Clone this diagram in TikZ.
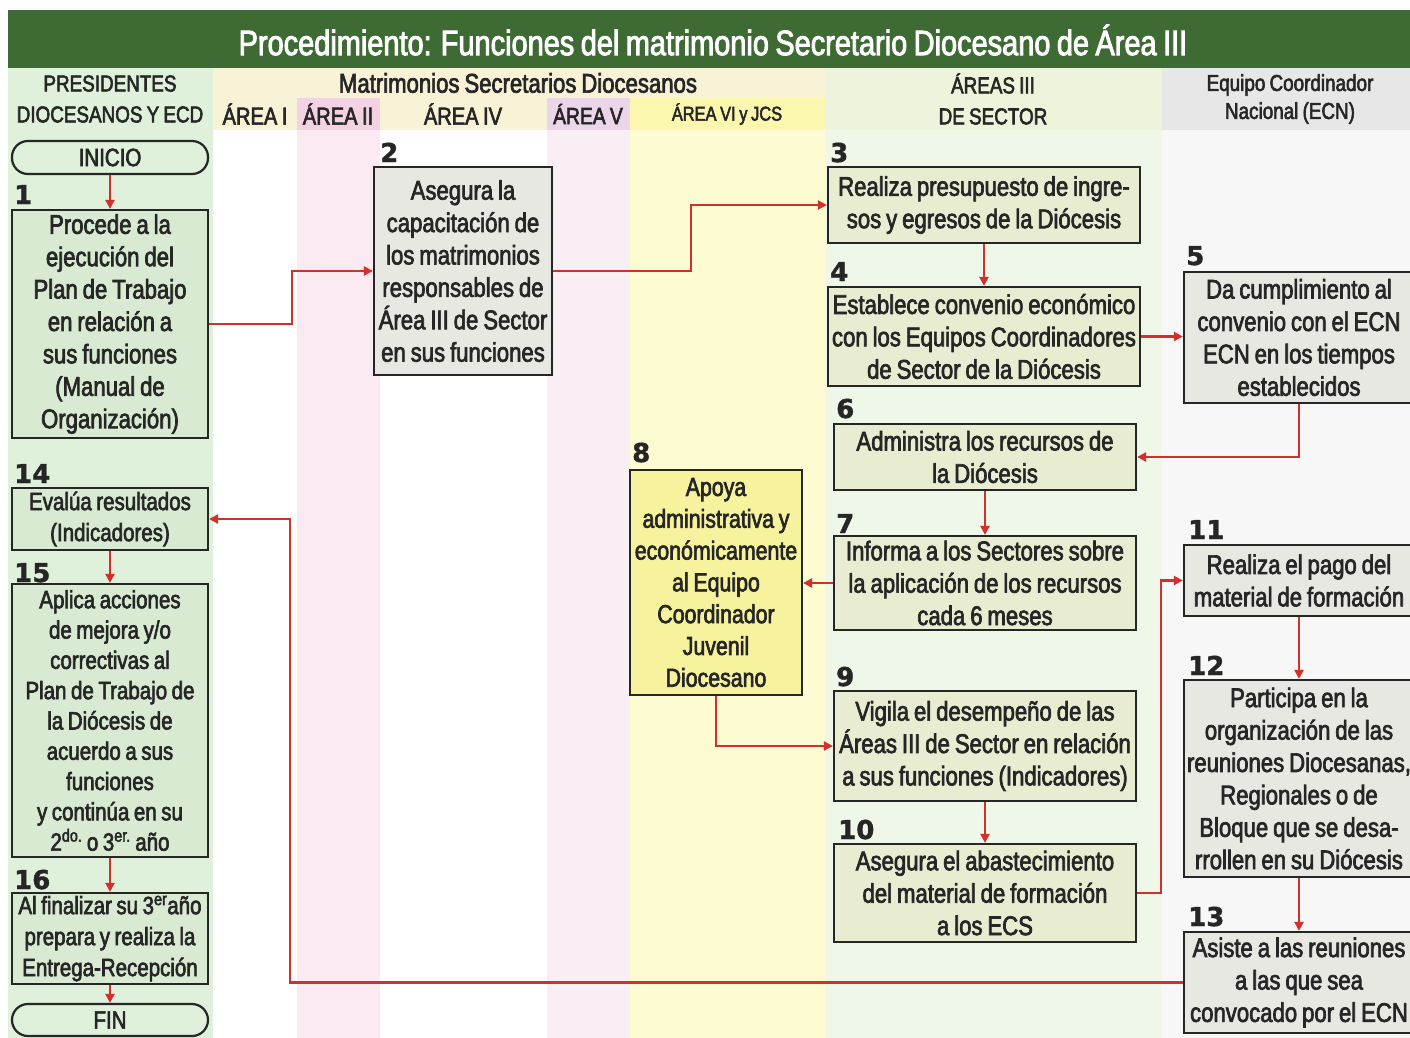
\documentclass[tikz,border=0pt]{standalone}
\usepackage{fontspec}
\setmainfont{Liberation Sans}[FakeStretch=0.82, FakeBold=2.5, WordSpace=0.8]
\newfontfamily\numfont{DejaVu Sans}[FakeBold=1.5]
\usetikzlibrary{arrows.meta}
\definecolor{titlegreen}{HTML}{3E6A34}
\definecolor{colgreen}{HTML}{DFF0DB}
\definecolor{hdrcream}{HTML}{F8F3D6}
\definecolor{hdrpink}{HTML}{F3D3E3}
\definecolor{hdrlav}{HTML}{EAD6E8}
\definecolor{hdryellow}{HTML}{FBF7AE}
\definecolor{hdrsector}{HTML}{EEF3DC}
\definecolor{hdrgray}{HTML}{E7E7E7}
\definecolor{bodypink}{HTML}{FBEAF2}
\definecolor{bodylav}{HTML}{F8EEF4}
\definecolor{bodyyellow}{HTML}{FDFBD2}
\definecolor{bodysector}{HTML}{EEF7E8}
\definecolor{bodygray}{HTML}{F7F7F7}
\definecolor{fillgreen}{HTML}{D8EAD2}
\definecolor{fillgray}{HTML}{E8E8E2}
\definecolor{fillsector}{HTML}{E8EDD2}
\definecolor{fillyellow}{HTML}{F6F29E}
\definecolor{boxline}{HTML}{262626}
\definecolor{txt}{HTML}{262626}
\definecolor{arrowred}{HTML}{D0312D}
\begin{document}
\begin{tikzpicture}[x=1pt,y=-1pt,
  box/.style={draw=boxline, line width=2.2pt, inner sep=0pt, align=center, text=txt,
    font=\fontsize{27}{32.4}\selectfont},
  term/.style={box, rounded corners=16pt, fill=colgreen, font=\fontsize{25}{25}\selectfont},
  num/.style={font=\numfont\bfseries\fontsize{26}{26}\selectfont, text=txt, anchor=base west, inner sep=0pt},
  hdr/.style={font=\fontsize{23}{31}\selectfont, text=txt, align=center, inner sep=0pt},
  arr/.style={draw=arrowred, line width=2.2pt, -{Triangle[length=9pt,width=9pt]}},
]
\useasboundingbox (0,0) rectangle (1410,1038);
\fill[white] (0,0) rectangle (1410,1038);
% column backgrounds
\fill[colgreen] (8,68) rectangle (213,1038);
\fill[hdrcream] (213,68) rectangle (825,130);
\fill[bodypink] (297,130) rectangle (380,1038);
\fill[hdrpink] (297,98) rectangle (380,130);
\fill[bodylav] (547,130) rectangle (630,1038);
\fill[hdrlav] (547,98) rectangle (630,130);
\fill[bodyyellow] (630,130) rectangle (825,1038);
\fill[hdryellow] (630,98) rectangle (825,130);
\fill[bodysector] (825,130) rectangle (1162,1038);
\fill[hdrsector] (825,68) rectangle (1162,130);
\fill[bodygray] (1162,130) rectangle (1410,1038);
\fill[hdrgray] (1162,68) rectangle (1410,130);
% title
\fill[titlegreen] (8,10) rectangle (1410,68);
\node[font=\fontsize{35.3}{35.3}\selectfont, text=white, inner sep=0pt] (title) at (713,40) {Procedimiento: Funciones del matrimonio Secretario Diocesano de Área III};
% headers
\node[hdr] (h1) at (110,99) {PRESIDENTES\\DIOCESANOS Y ECD};
\node[hdr, font=\fontsize{27}{27}\selectfont] (h2) at (518,83) {Matrimonios Secretarios Diocesanos};
\node[hdr, font=\fontsize{24.5}{24.5}\selectfont] (h3) at (255,114) {ÁREA I};
\node[hdr, font=\fontsize{24.5}{24.5}\selectfont] (h4) at (338,114) {ÁREA II};
\node[hdr, font=\fontsize{24.5}{24.5}\selectfont] (h5) at (463,114) {ÁREA IV};
\node[hdr, font=\fontsize{23.5}{23.5}\selectfont] (h6) at (588,114) {ÁREA V};
\node[hdr, font=\fontsize{20}{20}\selectfont] (h7) at (727,114) {ÁREA VI y JCS};
\node[hdr] (h8) at (993,99) {ÁREAS III\\DE SECTOR};
\node[hdr, font=\fontsize{23}{28}\selectfont] (h9) at (1290,99) {Equipo Coordinador\\Nacional (ECN)};
% boxes
\node[term, minimum width=196pt, minimum height=33pt] (inicio) at (110,157.5) {INICIO};
\node[box, fill=fillgreen, minimum width=196pt, minimum height=228pt] (b1) at (110,324) {Procede a la\\ejecución del\\Plan de Trabajo\\en relación a\\sus funciones\\(Manual de\\Organización)};
\node[box, fill=fillgray, minimum width=178pt, minimum height=208pt] (b2) at (463,271) {Asegura la\\capacitación de\\los matrimonios\\responsables de\\Área III de Sector\\en sus funciones};
\node[box, fill=fillsector, minimum width=312pt, minimum height=76pt] (b3) at (984,205) {Realiza presupuesto de ingre-\\sos y egresos de la Diócesis};
\node[box, fill=fillsector, minimum width=312pt, minimum height=99pt] (b4) at (984,336.5) {Establece convenio económico\\con los Equipos Coordinadores\\de Sector de la Diócesis};
\node[box, fill=fillgray, minimum width=230pt, minimum height=131pt] (b5) at (1299,337.5) {Da cumplimiento al\\convenio con el ECN\\ECN en los tiempos\\establecidos};
\node[box, fill=fillsector, minimum width=302pt, minimum height=66pt] (b6) at (985,457) {Administra los recursos de\\la Diócesis};
\node[box, fill=fillsector, minimum width=302pt, minimum height=94pt] (b7) at (985,583) {Informa a los Sectores sobre\\la aplicación de los recursos\\cada 6 meses};
\node[box, fill=fillyellow, minimum width=172pt, minimum height=225pt, font=\fontsize{26}{31.8}\selectfont] (b8) at (716,582.5) {Apoya\\administrativa y\\económicamente\\al Equipo\\Coordinador\\Juvenil\\Diocesano};
\node[box, fill=fillsector, minimum width=302pt, minimum height=110pt] (b9) at (985,746) {Vigila el desempeño de las\\Áreas III de Sector en relación\\a sus funciones (Indicadores)};
\node[box, fill=fillsector, minimum width=302pt, minimum height=98pt] (b10) at (985,893) {Asegura el abastecimiento\\del material de formación\\a los ECS};
\node[box, fill=fillgray, minimum width=230pt, minimum height=71pt] (b11) at (1299,580.5) {Realiza el pago del\\material de formación};
\node[box, fill=fillgray, minimum width=230pt, minimum height=197pt] (b12) at (1299,778.5) {Participa en la\\organización de las\\reuniones Diocesanas,\\Regionales o de\\Bloque que se desa-\\rrollen en su Diócesis};
\node[box, fill=fillgray, minimum width=230pt, minimum height=101pt] (b13) at (1299,982.5) {Asiste a las reuniones\\a las que sea\\convocado por el ECN};
\node[box, fill=fillgreen, minimum width=196pt, minimum height=62pt, font=\fontsize{25}{31}\selectfont] (b14) at (110,519) {Evalúa resultados\\(Indicadores)};
\node[box, fill=fillgreen, minimum width=196pt, minimum height=273pt, font=\fontsize{25}{30.3}\selectfont] (b15) at (110,720.5) {Aplica acciones\\de mejora y/o\\correctivas al\\Plan de Trabajo de\\la Diócesis de\\acuerdo a sus\\funciones\\y continúa en su\\2\textsuperscript{do.} o 3\textsuperscript{er.} año};
\node[box, fill=fillgreen, minimum width=196pt, minimum height=91pt, font=\fontsize{25}{31}\selectfont] (b16) at (110,938.5) {Al finalizar su 3\textsuperscript{er}año\\prepara y realiza la\\Entrega-Recepción};
\node[term, minimum width=196pt, minimum height=32pt] (fin) at (110,1020) {FIN};
% step numbers
\node[num] (n1) at (14,204) {1};
\node[num] (n2) at (380,162) {2};
\node[num] (n3) at (830,162) {3};
\node[num] (n4) at (830,281) {4};
\node[num] (n5) at (1186,265) {5};
\node[num] (n6) at (836,418) {6};
\node[num] (n7) at (836,533) {7};
\node[num] (n8) at (632,462) {8};
\node[num] (n9) at (836,686) {9};
\node[num] (n10) at (838,839) {10};
\node[num] (n11) at (1188,539) {11};
\node[num] (n12) at (1188,675) {12};
\node[num] (n13) at (1188,926) {13};
\node[num] (n14) at (14,483) {14};
\node[num] (n15) at (14,582) {15};
\node[num] (n16) at (14,889) {16};
% connectors
\draw[arr] (inicio) -- (b1);
\draw[arr] (b1.east) -- ++(83,0) |- (b2.west);
\draw[arr] (b2.east) -- ++(138,0) |- (b3.west);
\draw[arr] (b3) -- (b4);
\draw[arr] (b4.east) -- (b4.east -| b5.west);
\draw[arr] (b5.south) |- (b6.east);
\draw[arr] (b6) -- (b7);
\draw[arr] (b7.west) -- (b7.west -| b8.east);
\draw[arr] (b8.south) |- (b9.west);
\draw[arr] (b9) -- (b10);
\draw[arr] (b10.east) -- ++(24,0) |- (b11.west);
\draw[arr] (b11) -- (b12);
\draw[arr] (b12) -- (b13);
\draw[arr] (b13.west) -- ++(-893,0) |- (b14.east);
\draw[arr] (b14) -- (b15);
\draw[arr] (b15) -- (b16);
\draw[arr] (b16) -- (fin);
\end{tikzpicture}
\end{document}
